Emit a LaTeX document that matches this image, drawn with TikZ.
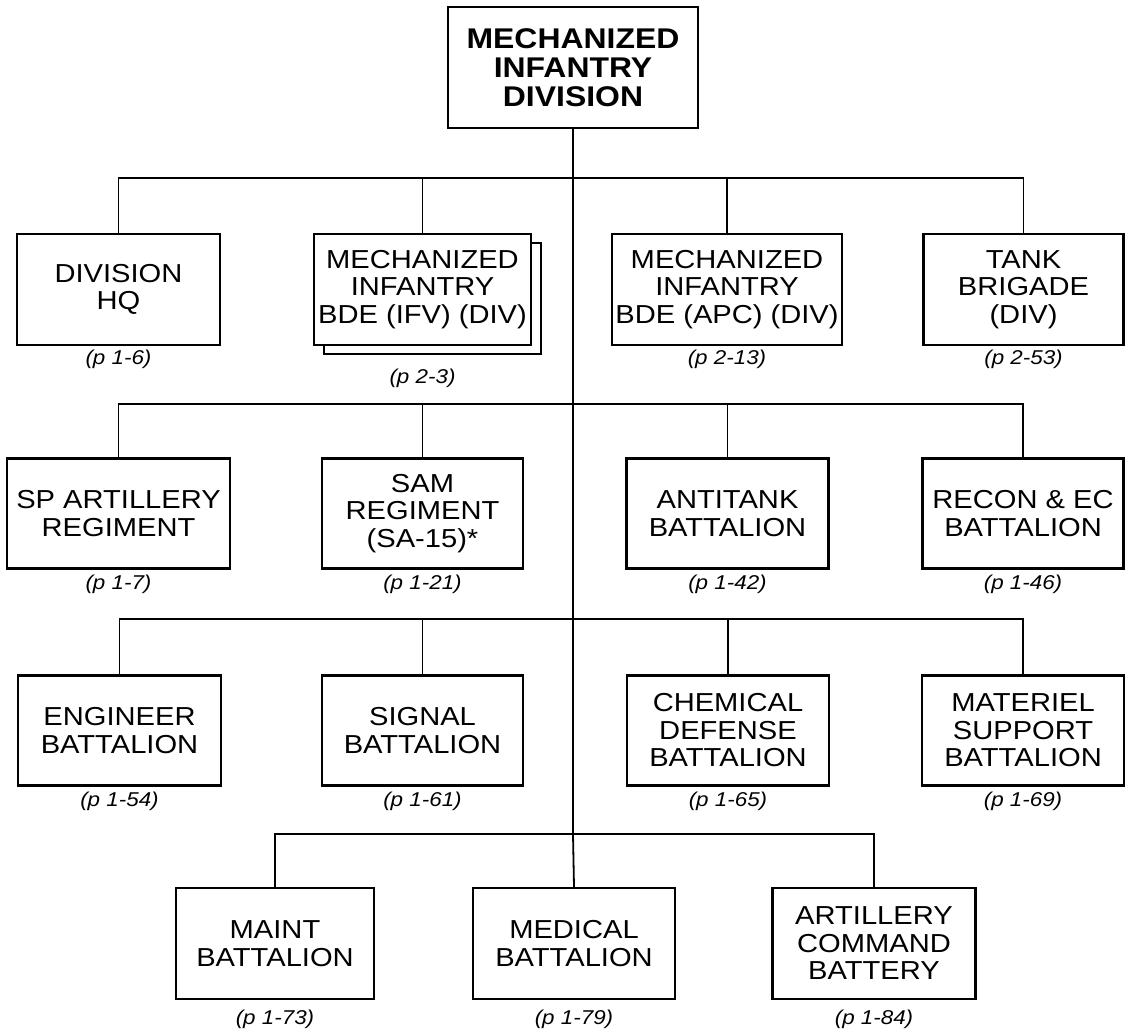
\documentclass[tikz,border=0pt]{standalone}
\usepackage{fontspec}
\setmainfont[FakeStretch=1.12]{Liberation Sans}
\begin{document}
\begin{tikzpicture}[x=1pt,y=-1pt,
  unit/.style={draw, line width=2.4pt, fill=white, inner sep=0pt, align=center,
    font=\fontsize{26}{27.5}\selectfont, minimum height=110pt},
  topunit/.style={draw, line width=2.4pt, fill=white, inner sep=0pt, align=center,
    font=\bfseries\fontsize{28.5}{29}\selectfont, minimum width=250pt, minimum height=121pt},
  pg/.style={font=\itshape\fontsize{20}{22}\selectfont, inner sep=0pt},
  link/.style={line width=1.8pt}]
\useasboundingbox (0,0) rectangle (1128,1035);

% top
\node[topunit] (top) at (573,67.5) {MECHANIZED\\INFANTRY\\DIVISION};

% row 1
\node[unit, minimum width=203pt, minimum height=111pt] (hq) at (118.5,289.5) {DIVISION\\HQ};
\node[unit, minimum width=217pt, minimum height=111pt] (ifvsh) at (432.5,298.5) {};
\node[unit, minimum width=217pt, minimum height=111pt] (ifv) at (422.5,289.5) {MECHANIZED\\INFANTRY\\BDE (IFV) (DIV)};
\node[unit, minimum width=230pt, minimum height=111pt] (apc) at (727,289.5) {MECHANIZED\\INFANTRY\\BDE (APC) (DIV)};
\node[unit, minimum width=200pt, minimum height=111pt] (tank) at (1023.5,289.5) {TANK\\BRIGADE\\(DIV)};
\node[pg] (phq) at (118.5,359) {(p 1-6)};
\node[pg] (pifv) at (422.5,378) {(p 2-3)};
\node[pg] (papc) at (727,359) {(p 2-13)};
\node[pg] (ptank) at (1023.5,359) {(p 2-53)};

% row 2
\node[unit, minimum width=223pt] (sp) at (118.5,513.5) {SP ARTILLERY\\REGIMENT};
\node[unit, minimum width=201pt] (sam) at (422.5,513.5) {SAM\\REGIMENT\\(SA-15)*};
\node[unit, minimum width=202pt] (at) at (727.5,513.5) {ANTITANK\\BATTALION};
\node[unit, minimum width=201pt] (rec) at (1023,513.5) {RECON \& EC\\BATTALION};
\node[pg] (psp) at (118.5,584) {(p 1-7)};
\node[pg] (psam) at (422.5,584) {(p 1-21)};
\node[pg] (pat) at (727.5,584) {(p 1-42)};
\node[pg] (prec) at (1023,584) {(p 1-46)};

% row 3
\node[unit, minimum width=203pt] (eng) at (119.5,730.5) {ENGINEER\\BATTALION};
\node[unit, minimum width=201pt] (sig) at (422.5,730.5) {SIGNAL\\BATTALION};
\node[unit, minimum width=202pt] (chem) at (728,730.5) {CHEMICAL\\DEFENSE\\BATTALION};
\node[unit, minimum width=202pt] (mat) at (1023,730.5) {MATERIEL\\SUPPORT\\BATTALION};
\node[pg] (peng) at (119.5,801) {(p 1-54)};
\node[pg] (psig) at (422.5,801) {(p 1-61)};
\node[pg] (pchem) at (728,801) {(p 1-65)};
\node[pg] (pmat) at (1023,801) {(p 1-69)};

% row 4
\node[unit, minimum width=198pt, minimum height=111pt] (mnt) at (275,943.5) {MAINT\\BATTALION};
\node[unit, minimum width=202pt, minimum height=111pt] (med) at (574,943.5) {MEDICAL\\BATTALION};
\node[unit, minimum width=203pt, minimum height=111pt] (acb) at (874,943.5) {ARTILLERY\\COMMAND\\BATTERY};
\node[pg] (pmnt) at (275,1019) {(p 1-73)};
\node[pg] (pmed) at (574,1019) {(p 1-79)};
\node[pg] (pacb) at (874,1019) {(p 1-84)};

% connectors
\coordinate (b1) at (573,178);
\coordinate (b2) at (573,404);
\coordinate (b3) at (573,619);
\coordinate (b4) at (573,834);
\draw[link] (top.south) -- (b4) -- (med.north);
\draw[link] (hq.north) |- (b1) -| (tank.north);
\draw[link] (ifv.north) -- (ifv.north |- b1);
\draw[link] (apc.north) -- (apc.north |- b1);
\draw[link] (sp.north) |- (b2) -| (rec.north);
\draw[link] (sam.north) -- (sam.north |- b2);
\draw[link] (at.north) -- (at.north |- b2);
\draw[link] (eng.north) |- (b3) -| (mat.north);
\draw[link] (sig.north) -- (sig.north |- b3);
\draw[link] (chem.north) -- (chem.north |- b3);
\draw[link] (mnt.north) |- (b4) -| (acb.north);
\end{tikzpicture}
\end{document}
